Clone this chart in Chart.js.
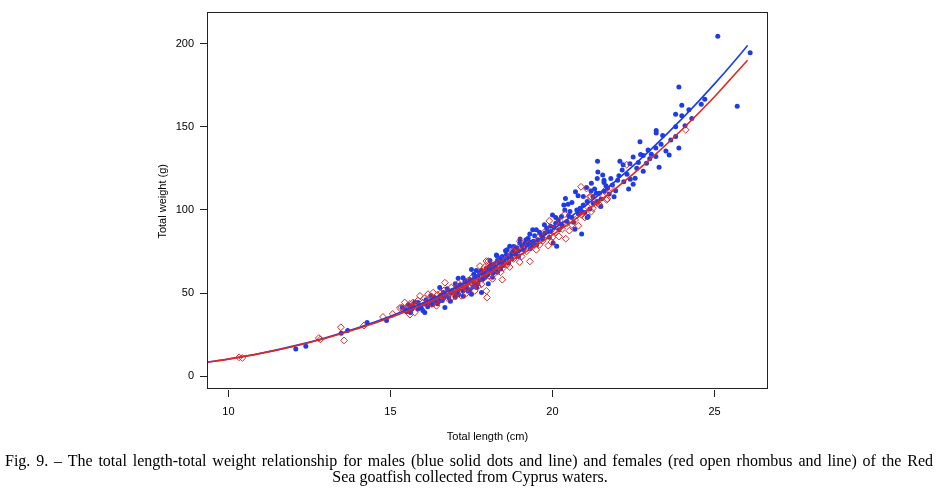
<!DOCTYPE html>
<html><head><meta charset="utf-8">
<script src="https://cdn.jsdelivr.net/npm/chart.js@4.4.0/dist/chart.umd.min.js"></script>
<style>
html,body{margin:0;padding:0;background:#fff;width:941px;height:500px;overflow:hidden}
#wrap{position:absolute;left:0;top:0;width:941px;height:500px}
.cap{position:absolute;font-family:"Liberation Serif","Times New Roman",serif;font-size:16px;line-height:16px;white-space:nowrap;color:#000}
</style></head><body>
<div id="wrap"><canvas id="c" width="941" height="500"></canvas></div>
<div class="cap" id="cap1" style="left:5px;top:453px">Fig. 9. – The total length-total weight relationship for males (blue solid dots and line) and females (red open rhombus and line) of the Red</div>
<div class="cap" id="cap2" style="left:380px;top:469px">Sea goatfish collected from Cyprus waters.</div>
<script>
// ---- data ----
const xTicks = [10, 15, 20, 25];
const yTicks = [0, 50, 100, 150, 200];

const blueLength = [
 12.08,12.39,13.48,13.68,14.28,14.88,15.37,15.60,15.85,15.62,
 18.68,18.29,18.38,17.50,17.57,17.24,17.09,17.66,17.81,16.68,16.52,16.63,16.47,16.27,16.06,15.85,15.70,15.50,16.06,17.04,17.24,17.35,17.50,18.02,17.86,18.17,18.58,18.79,
 21.38,21.59,21.59,20.71,20.79,20.40,20.48,21.07,21.07,20.90,20.69,20.00,20.18,20.38,20.54,20.28,19.94,19.82,19.39,19.77,19.69,19.41,19.51,20.13,19.18,19.20,18.99,19.32,18.74,18.27,18.38,18.07,20.02,21.10,20.90,21.26,
 23.90,23.99,24.21,23.80,23.99,24.70,24.59,23.20,23.20,23.40,23.80,24.09,23.80,23.90,23.19,23.50,23.60,22.70,22.72,22.80,23.00,23.19,22.49,23.29,22.80,22.39,22.18,22.08,21.39,21.40,21.80,22.01,22.49,21.19,21.60,21.90,21.39,21.49,
 25.10,26.10,25.70,
 15.90,16.10,16.20,16.35,16.40,16.55,16.70,16.80,16.90,16.95,17.10,17.15,17.20,17.30,17.40,17.45,17.55,17.60,17.70,17.75,17.80,17.90,17.95,18.05,18.10,18.20,18.25,18.35,18.45,18.50,18.55,18.60,18.85,18.90,19.05,19.10,19.25,19.30,19.45,19.55,19.60,19.70,19.85,19.90,20.05,20.10,20.20,20.30,20.45,20.60,20.65,20.80,20.85,20.95,21.00,21.15,21.25,21.30,21.45,21.50,21.70,21.75,21.85,21.95,22.05,22.20,22.30,22.35,22.55,22.60,22.90,23.05,
 15.45,15.55,15.65,15.75,15.95,16.00,16.15,16.25,16.45,16.60,16.75,16.85,17.00,17.05,17.25,17.40,17.55,17.65,17.70,17.85,17.95,18.15,18.30,18.40,18.50,18.65,18.75,18.95,
 16.30,16.50,16.65,16.85,17.00,17.10,17.30,17.45,17.60,17.75,17.90,18.00,18.10,18.20,18.30,18.45,18.60,18.70,18.80,18.95,19.00,19.15,19.30,19.40,19.50,19.65,19.75,19.95,20.10,20.25,20.35,20.50,20.60,20.75,20.95,21.05,21.20,21.35,21.55,21.65,22.15,22.40,22.65,22.95,23.35,23.65,24.30
];
const blueWeight = [
 16.3,17.9,25.8,27.4,32.2,33.4,41.3,41.3,44.3,38.3,
 78.1,72.2,70.2,64.2,61.3,59.2,58.9,53.3,50.3,41.3,53.3,50.3,46.9,45.3,43.4,40.4,42.3,38.8,38.3,53.3,51.3,53.3,49.3,55.6,61.3,62.2,73.2,75.1,
 118.9,117.9,116.5,110.9,108.5,106.9,103.4,105.0,95.4,85.5,88.4,97.0,94.1,100.0,99.0,96.0,90.1,89.1,88.1,86.1,82.5,81.1,79.1,78.1,82.1,79.1,80.1,76.8,74.1,72.8,70.8,69.6,80.1,96.0,99.0,103.9,
 174.0,163.0,160.3,157.5,156.7,166.6,163.6,147.7,146.2,144.7,150.1,150.7,144.2,137.3,137.2,135.4,133.0,141.0,133.4,132.8,130.8,132.2,131.8,125.7,123.3,127.8,127.2,129.2,129.2,122.8,118.9,117.9,115.5,111.4,111.4,107.9,105.0,102.0,
 204.4,194.6,162.4,
 42.5,46.0,44.0,47.5,44.8,48.5,49.0,47.2,51.5,49.8,52.0,55.0,54.2,56.5,55.8,58.2,57.0,59.5,60.2,57.8,63.5,62.0,64.8,66.0,63.8,67.5,65.0,68.5,72.0,69.5,75.5,71.0,73.5,77.2,78.5,76.0,83.0,80.5,84.5,82.0,86.5,84.0,87.0,83.5,89.5,92.0,88.0,90.5,93.0,95.5,92.5,97.5,101.0,103.0,98.5,100.5,108.0,112.5,110.0,106.5,113.0,109.5,115.0,111.5,120.5,117.0,121.5,112.5,119.0,125.0,128.0,133.5,
 40.0,43.0,40.2,44.5,41.2,39.5,41.8,48.5,43.5,45.5,52.5,45.0,47.5,50.2,48.0,51.0,53.8,63.5,55.5,58.5,60.0,59.5,62.5,64.5,66.5,68.0,70.5,72.0,
 43.0,45.0,47.5,50.0,55.5,49.0,57.5,52.0,56.0,62.0,59.0,61.0,67.0,64.0,69.5,67.0,76.0,72.0,78.0,75.5,82.5,80.0,85.5,78.5,88.0,85.0,91.0,87.0,95.5,91.5,103.0,96.5,104.5,100.0,108.0,113.5,116.0,110.0,121.0,114.5,124.0,118.5,128.5,136.0,139.5,142.0,155.0
];

const redLength = [
 10.33,10.43,12.79,12.84,13.47,13.57,14.18,14.77,15.07,15.29,15.55,15.70,15.60,
 18.02,17.76,17.91,18.27,18.48,17.96,17.98,17.81,17.30,17.14,16.88,16.68,16.99,16.73,16.52,16.32,16.16,16.27,15.91,15.60,15.44,15.34,15.75,16.42,17.19,17.50,17.60,
 20.88,21.05,21.15,21.38,21.67,20.38,20.23,19.90,20.52,20.41,19.97,19.87,19.56,18.99,18.79,18.71,18.99,18.68,17.96,18.17,18.48,
 22.29,24.11,21.80,21.60,21.69,21.19,21.36,
 15.50,15.65,15.80,15.85,16.00,16.05,16.20,16.35,16.45,16.60,16.65,16.80,16.90,17.00,17.05,17.20,17.25,17.35,17.40,17.45,17.55,17.65,17.70,17.75,17.85,17.90,18.05,18.10,18.20,18.30,18.35,18.40,18.55,18.60,18.80,18.90,19.05,19.10,19.20,19.35,19.45,19.60,19.70,19.80,20.00,20.10,20.15,20.30,20.60,20.70,20.80,21.00,21.20,21.25,21.45,21.55,19.30,18.45,
 16.10,16.25,16.40,16.55,16.75,16.95,17.10,17.35,17.50,17.65,17.85,18.00,18.15,18.25,18.40,18.65,18.85,19.00,19.25,19.50,19.75,19.95,20.20,20.45,20.90,21.10
];
const redWeight = [
 11.3,10.9,22.9,22.1,29.4,21.5,30.4,35.6,37.4,41.0,42.3,44.3,37.0,
 69.2,66.2,62.8,66.2,67.2,51.3,47.3,55.3,55.3,53.3,53.3,56.2,48.3,49.3,46.3,50.3,49.3,43.4,48.3,43.4,44.3,41.3,38.3,42.3,48.3,56.2,51.3,
 113.9,112.9,107.9,104.6,106.0,97.4,93.4,93.4,87.5,82.7,80.7,78.5,83.5,81.1,75.6,73.2,68.6,65.6,69.2,66.2,65.2,
 127.2,148.2,113.6,111.4,106.6,107.9,104.6,
 40.5,41.8,43.0,45.5,44.2,46.8,45.5,47.0,49.0,48.0,51.5,50.5,47.5,52.5,50.0,51.2,54.0,52.5,57.5,53.8,55.0,58.0,54.0,60.5,58.5,65.5,60.2,63.0,61.5,64.0,68.0,62.5,70.0,67.0,70.5,73.5,72.0,76.5,75.0,78.0,80.0,79.0,81.5,85.0,83.5,86.5,90.0,88.5,91.0,94.0,90.5,95.5,99.0,101.0,103.0,108.5,69.0,58.0,
 43.8,48.0,45.0,50.0,47.0,51.0,55.8,50.0,59.0,55.5,61.5,64.5,58.5,67.5,70.5,71.0,77.0,74.5,79.5,76.0,86.5,89.0,84.0,92.0,97.0,101.5
];

// fitted curves
const curveLength = [9.34,10,11,12,13,14,15,16,17,18,19,20,21,22,23,24,25,26,26.02];
const blueCurve  = [8.31,10.27,13.79,18.06,23.14,29.12,36.06,44.03,53.13,63.45,75.03,87.97,102.3,118.2,135.7,154.9,175.8,198.5,199.0];
const redCurve   = [8.30,10.22,13.68,17.85,22.79,28.60,35.31,43.00,51.74,61.64,72.69,84.93,98.69,113.7,130.3,148.4,168.1,189.6,190.0];

const BLUE = '#1d3ce6', RED = '#e3261e';
const pts = (xs, ys) => xs.map((x, i) => ({x, y: ys[i]}));

const framePlugin = {
  id: 'frame',
  afterDatasetsDraw(chart) {
    const a = chart.chartArea, ctx = chart.ctx;
    ctx.save();
    ctx.strokeStyle = '#222';
    ctx.lineWidth = 1;
    ctx.strokeRect(Math.floor(a.left) + 0.5, Math.floor(a.top) + 0.5, Math.round(a.right - a.left) - 1, Math.round(a.bottom - a.top) - 1);
    ctx.restore();
  }
};

const tickFont = {family: '"Liberation Sans", Arial, sans-serif', size: 11};

new Chart(document.getElementById('c'), {
  type: 'scatter',
  data: {
    datasets: [
      {label: 'Males', data: pts(blueLength, blueWeight), backgroundColor: BLUE, borderColor: BLUE, pointStyle: 'circle', pointRadius: 2.5, pointBorderWidth: 0, order: 4},
      {label: 'Females', data: pts(redLength, redWeight), backgroundColor: 'rgba(0,0,0,0)', borderColor: RED, pointStyle: 'rectRot', pointRadius: 3.4, pointBorderWidth: 1, order: 3},
      {label: 'Males fit', data: pts(curveLength, blueCurve), showLine: true, borderColor: BLUE, borderWidth: 1.6, pointRadius: 0, cubicInterpolationMode: 'monotone', fill: false, order: 2},
      {label: 'Females fit', data: pts(curveLength, redCurve), showLine: true, borderColor: RED, borderWidth: 1.6, pointRadius: 0, cubicInterpolationMode: 'monotone', fill: false, order: 1}
    ]
  },
  options: {
    responsive: false,
    animation: false,
    events: [],
    layout: {padding: {left: 0, right: 173, top: 9.5, bottom: 0}},
    plugins: {legend: {display: false}, tooltip: {enabled: false}},
    scales: {
      x: {
        type: 'linear', min: 9.34, max: 26.65,
        afterBuildTicks: s => { s.ticks = xTicks.map(v => ({value: v})); },
        afterFit: s => { s.height = 110; },
        grid: {drawOnChartArea: false, drawTicks: true, tickLength: 7, color: '#222', lineWidth: 1},
        border: {display: false},
        ticks: {autoSkip: false, maxRotation: 0, font: tickFont, color: '#000', padding: 8, callback: v => String(v)},
        title: {display: true, text: 'Total length (cm)', font: tickFont, color: '#000', padding: {top: 0, bottom: 56}}
      },
      y: {
        type: 'linear', min: -8.35, max: 218.7,
        afterBuildTicks: s => { s.ticks = yTicks.map(v => ({value: v})); },
        afterFit: s => { s.width = 207; },
        grid: {drawOnChartArea: false, drawTicks: true, tickLength: 7, color: '#222', lineWidth: 1},
        border: {display: false},
        ticks: {autoSkip: false, font: tickFont, color: '#000', padding: 6, callback: v => String(v)},
        title: {display: true, text: 'Total weight (g)', font: tickFont, color: '#000', padding: {top: 156, bottom: 0}}
      }
    }
  },
  plugins: [framePlugin]
});

function layoutCaption() {
  const c1 = document.getElementById('cap1');
  const c2 = document.getElementById('cap2');
  c1.style.wordSpacing = '0px';
  const w = c1.getBoundingClientRect().width;
  const spaces = (c1.textContent.match(/ /g) || []).length;
  const target = 928;
  c1.style.wordSpacing = ((target - w) / spaces).toFixed(3) + 'px';
  const w2 = c2.getBoundingClientRect().width;
  c2.style.left = (470 - w2 / 2).toFixed(1) + 'px';
}
layoutCaption();
if (document.fonts && document.fonts.ready) document.fonts.ready.then(layoutCaption);
</script>
</body></html>
